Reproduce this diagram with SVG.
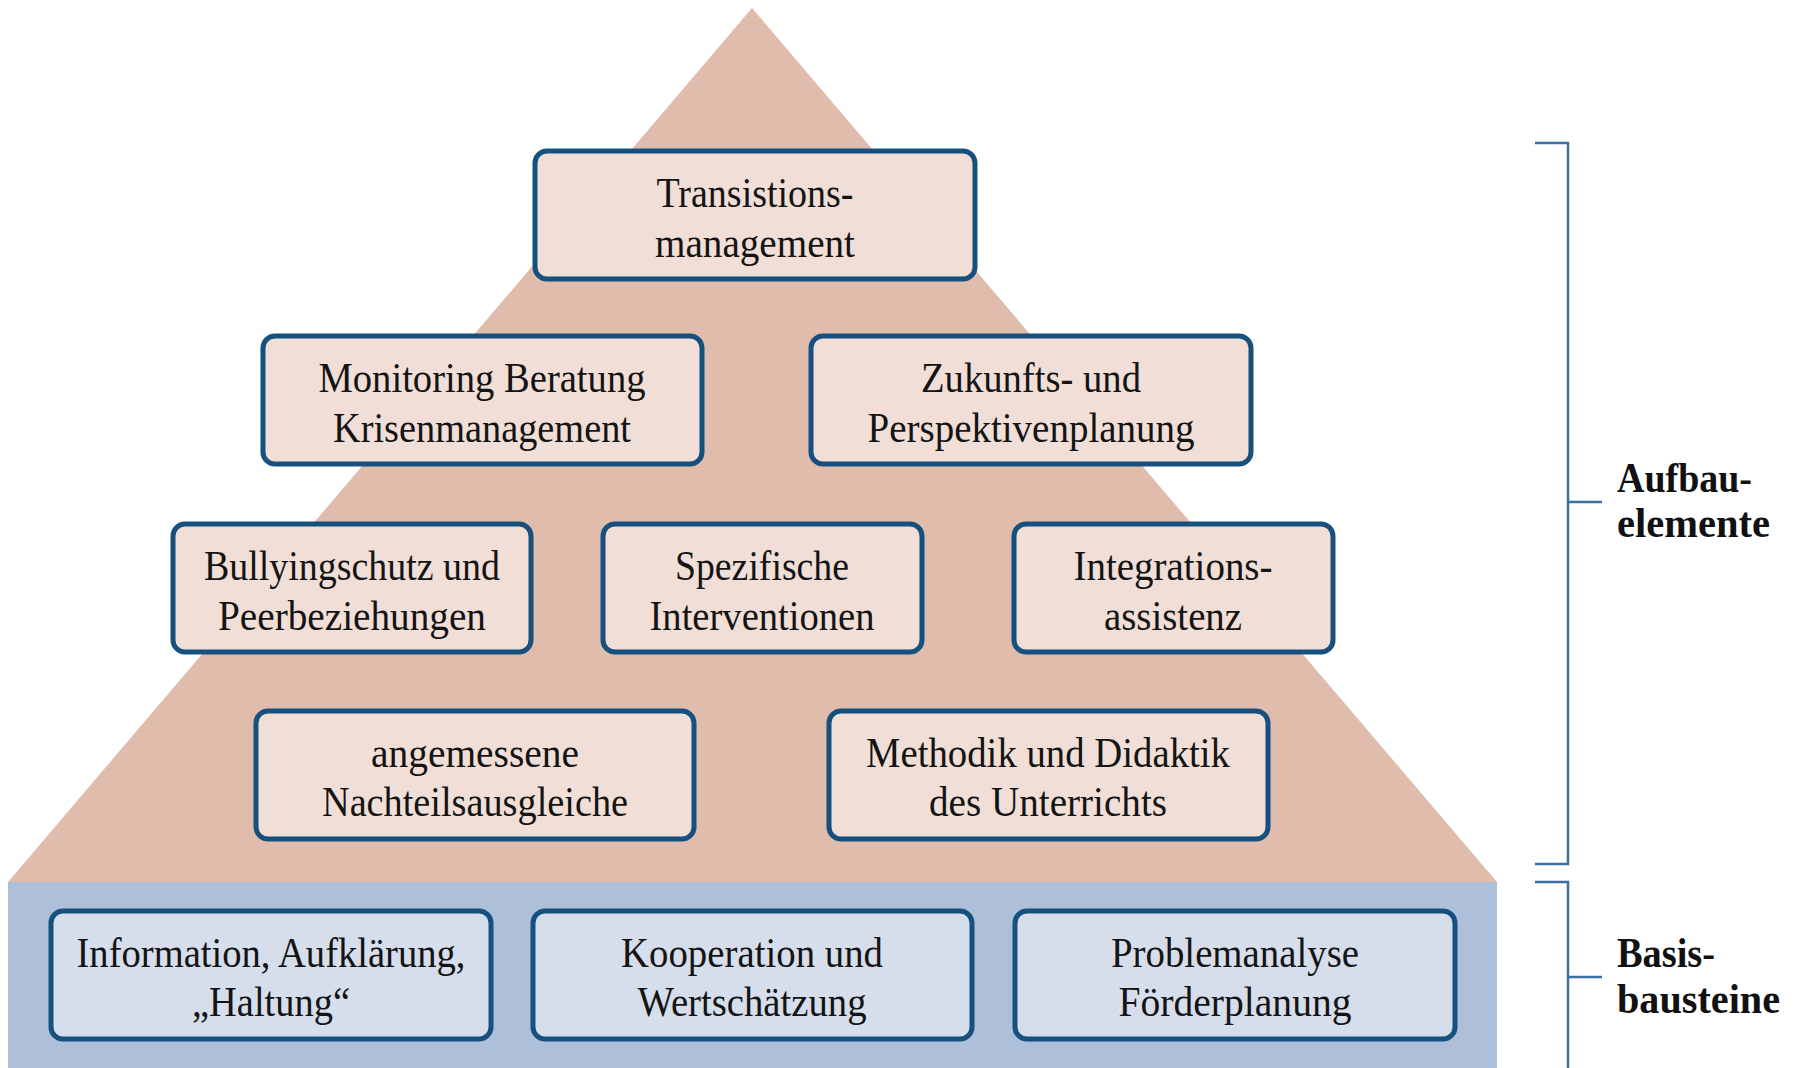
<svg xmlns="http://www.w3.org/2000/svg" width="1793" height="1068" viewBox="0 0 1793 1068">
<style>
.box{stroke:#16507f;stroke-width:5}
.pink{fill:#f1dfd7}
.blue{fill:#d6deec}
.t{font-family:"Liberation Serif","Times New Roman",serif;font-size:42px;fill:#141414;text-anchor:middle}
.lab{font-family:"Liberation Serif","Times New Roman",serif;font-size:42px;font-weight:bold;fill:#111}
.br{fill:none;stroke:#3a70a3;stroke-width:2.5}
</style>
<rect width="1793" height="1068" fill="#ffffff"/>
<g id="background">
<polygon points="752,8 8,882 1497,882" fill="#e0bcad"/>
<rect x="8" y="882" width="1489" height="186" fill="#adbfd9"/>
</g>
<g id="node-transitions">
<rect class="box pink" x="535" y="151" width="440" height="128" rx="12"/>
<text class="t" x="755" y="207" textLength="197" lengthAdjust="spacingAndGlyphs">Transistions-</text>
<text class="t" x="755" y="257" textLength="200" lengthAdjust="spacingAndGlyphs">management</text>
</g>
<g id="node-monitoring">
<rect class="box pink" x="263" y="336" width="439" height="128" rx="12"/>
<text class="t" x="482" y="392" textLength="327" lengthAdjust="spacingAndGlyphs">Monitoring Beratung</text>
<text class="t" x="482" y="442" textLength="298" lengthAdjust="spacingAndGlyphs">Krisenmanagement</text>
</g>
<g id="node-zukunft">
<rect class="box pink" x="811" y="336" width="440" height="128" rx="12"/>
<text class="t" x="1031" y="392" textLength="220" lengthAdjust="spacingAndGlyphs">Zukunfts- und</text>
<text class="t" x="1031" y="442" textLength="327" lengthAdjust="spacingAndGlyphs">Perspektivenplanung</text>
</g>
<g id="node-bullying">
<rect class="box pink" x="173" y="524" width="358" height="128" rx="12"/>
<text class="t" x="352" y="580" textLength="296" lengthAdjust="spacingAndGlyphs">Bullyingschutz und</text>
<text class="t" x="352" y="630" textLength="268" lengthAdjust="spacingAndGlyphs">Peerbeziehungen</text>
</g>
<g id="node-spezifisch">
<rect class="box pink" x="603" y="524" width="319" height="128" rx="12"/>
<text class="t" x="762" y="580" textLength="174" lengthAdjust="spacingAndGlyphs">Spezifische</text>
<text class="t" x="762" y="630" textLength="225" lengthAdjust="spacingAndGlyphs">Interventionen</text>
</g>
<g id="node-integration">
<rect class="box pink" x="1014" y="524" width="319" height="128" rx="12"/>
<text class="t" x="1173" y="580" textLength="199" lengthAdjust="spacingAndGlyphs">Integrations-</text>
<text class="t" x="1173" y="630" textLength="138" lengthAdjust="spacingAndGlyphs">assistenz</text>
</g>
<g id="node-nachteil">
<rect class="box pink" x="256" y="711" width="438" height="128" rx="12"/>
<text class="t" x="475" y="767" textLength="208" lengthAdjust="spacingAndGlyphs">angemessene</text>
<text class="t" x="475" y="816" textLength="306" lengthAdjust="spacingAndGlyphs">Nachteilsausgleiche</text>
</g>
<g id="node-methodik">
<rect class="box pink" x="829" y="711" width="439" height="128" rx="12"/>
<text class="t" x="1048" y="767" textLength="364" lengthAdjust="spacingAndGlyphs">Methodik und Didaktik</text>
<text class="t" x="1048" y="816" textLength="238" lengthAdjust="spacingAndGlyphs">des Unterrichts</text>
</g>
<g id="node-information">
<rect class="box blue" x="51" y="911" width="440" height="128" rx="12"/>
<text class="t" x="271" y="967" textLength="389" lengthAdjust="spacingAndGlyphs">Information, Aufklärung,</text>
<text class="t" x="271" y="1016" textLength="158" lengthAdjust="spacingAndGlyphs">„Haltung“</text>
</g>
<g id="node-kooperation">
<rect class="box blue" x="533" y="911" width="439" height="128" rx="12"/>
<text class="t" x="752" y="967" textLength="262" lengthAdjust="spacingAndGlyphs">Kooperation und</text>
<text class="t" x="752" y="1016" textLength="229" lengthAdjust="spacingAndGlyphs">Wertschätzung</text>
</g>
<g id="node-problem">
<rect class="box blue" x="1015" y="911" width="440" height="128" rx="12"/>
<text class="t" x="1235" y="967" textLength="248" lengthAdjust="spacingAndGlyphs">Problemanalyse</text>
<text class="t" x="1235" y="1016" textLength="233" lengthAdjust="spacingAndGlyphs">Förderplanung</text>
</g>
<g id="connectors">
<path class="br" d="M1535,143 H1568 V864 H1535 M1568,502 H1602"/>
<path class="br" d="M1535,882 H1568 V1068 M1568,977 H1602"/>
</g>
<g id="label-aufbau">
<text class="lab" x="1617" y="492" textLength="135" lengthAdjust="spacingAndGlyphs">Aufbau-</text>
<text class="lab" x="1617" y="537" textLength="153" lengthAdjust="spacingAndGlyphs">elemente</text>
</g>
<g id="label-basis">
<text class="lab" x="1617" y="967" textLength="98" lengthAdjust="spacingAndGlyphs">Basis-</text>
<text class="lab" x="1617" y="1013" textLength="163" lengthAdjust="spacingAndGlyphs">bausteine</text>
</g>
</svg>
